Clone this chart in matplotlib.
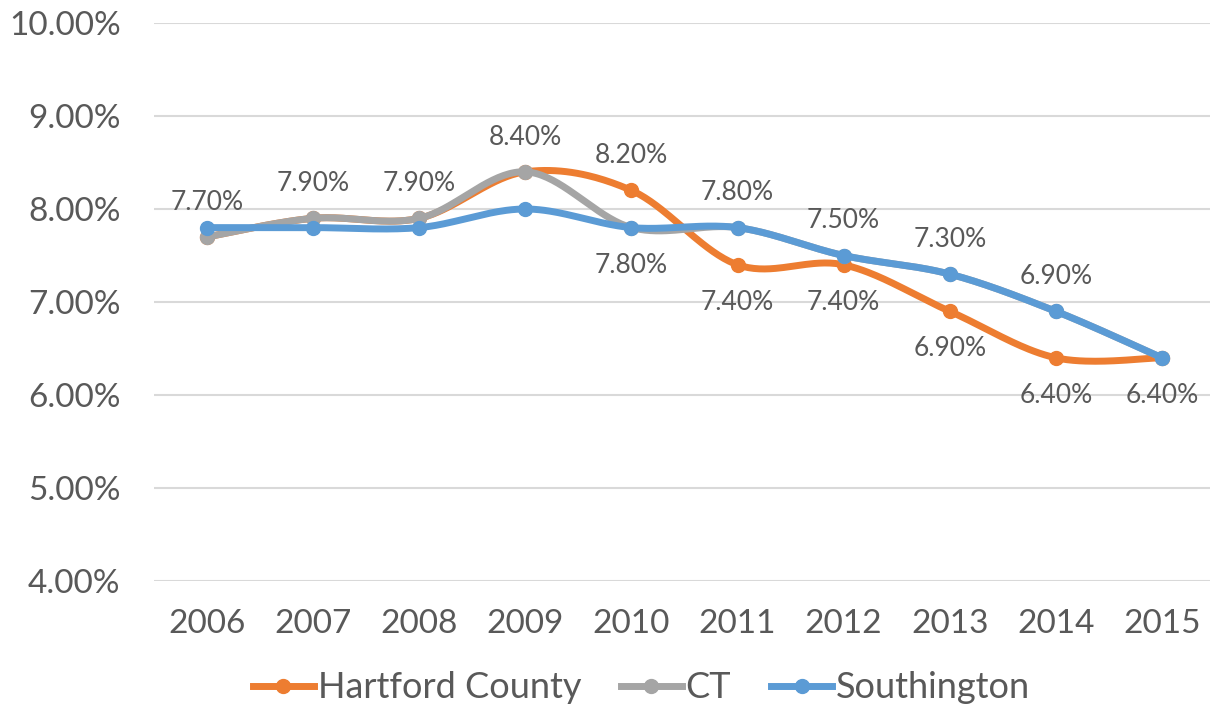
import matplotlib.pyplot as plt
import numpy as np
from matplotlib.ticker import FuncFormatter
from matplotlib.lines import Line2D

years = ['2006', '2007', '2008', '2009', '2010', '2011', '2012', '2013', '2014', '2015']
hartford = [7.7, 7.9, 7.9, 8.4, 8.2, 7.4, 7.4, 6.9, 6.4, 6.4]
ct = [7.7, 7.9, 7.9, 8.4, 7.8, 7.8, 7.5, 7.3, 6.9, 6.4]
southington = [7.8, 7.8, 7.8, 8.0, 7.8, 7.8, 7.5, 7.3, 6.9, 6.4]

# data labels as shown: (year index, above?)
labels_hartford = [(0, 1), (1, 1), (2, 1), (3, 1), (4, 1), (5, 0), (6, 0), (7, 0), (8, 0), (9, 0)]
labels_ct = [(4, 0), (5, 1), (6, 1), (7, 1), (8, 1)]

grey = '#595959'


# Excel style smoothed line (catmull-rom bezier)
def smooth(y, n=40):
    x = np.arange(len(y), dtype=float)
    y = np.asarray(y, dtype=float)
    P = np.column_stack([x, y])
    P = np.vstack([P[0], P, P[-1]])
    out = []
    for i in range(1, len(P) - 2):
        p0, p1, p2, p3 = P[i - 1], P[i], P[i + 1], P[i + 2]
        c1 = p1 + (p2 - p0) / 6
        c2 = p2 - (p3 - p1) / 6
        t = np.linspace(0, 1, n)[:, None]
        seg = ((1 - t) ** 3) * p1 + 3 * ((1 - t) ** 2) * t * c1 + 3 * (1 - t) * t ** 2 * c2 + t ** 3 * p2
        out.append(seg)
    out = np.vstack(out)
    return out[:, 0], out[:, 1]


plt.rcParams['font.family'] = ['Lato', 'DejaVu Sans']

fig = plt.figure(figsize=(12.1, 7.08), dpi=100)
ax = fig.add_axes([154 / 1210, 1 - 581 / 708, 1061 / 1210, 558 / 708])

series = [('Hartford County', hartford, '#ED7D31'),
          ('CT', ct, '#A5A5A5'),
          ('Southington', southington, '#5B9BD5')]
x = np.arange(len(years))
for i, (name, vals, col) in enumerate(series):
    sx, sy = smooth(vals)
    ax.plot(sx, sy, color=col, lw=5, solid_capstyle='round', zorder=3 + i)
    ax.plot(x, vals, 'o', color=col, ms=10, zorder=3 + i)

for vals, lab in [(hartford, labels_hartford), (ct, labels_ct)]:
    for idx, above in lab:
        off = 25 if above else -27
        ax.annotate(f'{vals[idx]:.2f}%', (idx, vals[idx]), xytext=(0, off),
                    textcoords='offset points', ha='center', va='center',
                    fontsize=19, color=grey)

ax.set_xlim(-0.5, 9.5)
ax.set_ylim(4, 10)
ax.set_yticks(np.arange(4, 10.1, 1))
ax.yaxis.set_major_formatter(FuncFormatter(lambda v, p: f'{v:.2f}%'))
ax.set_xticks(x)
ax.set_xticklabels(years)
ax.tick_params(length=0, labelsize=24, colors=grey)
ax.tick_params(axis='y', pad=24)
ax.tick_params(axis='x', pad=20)
ax.grid(axis='y', color='#D9D9D9', lw=1.5)
ax.set_axisbelow(True)
for s in ax.spines.values():
    s.set_visible(False)

# legend handles with line + marker
handles = [Line2D([], [], color=c, lw=5, marker='o', ms=10) for _, _, c in series]
fig.legend(handles, [s[0] for s in series], loc='center', bbox_to_anchor=(0.53, 1 - 688 / 708),
           ncol=3, frameon=False, fontsize=26, labelcolor=grey, handlelength=1.7,
           handletextpad=0.1, columnspacing=1.1)

fig.savefig('out.png', dpi=100)
